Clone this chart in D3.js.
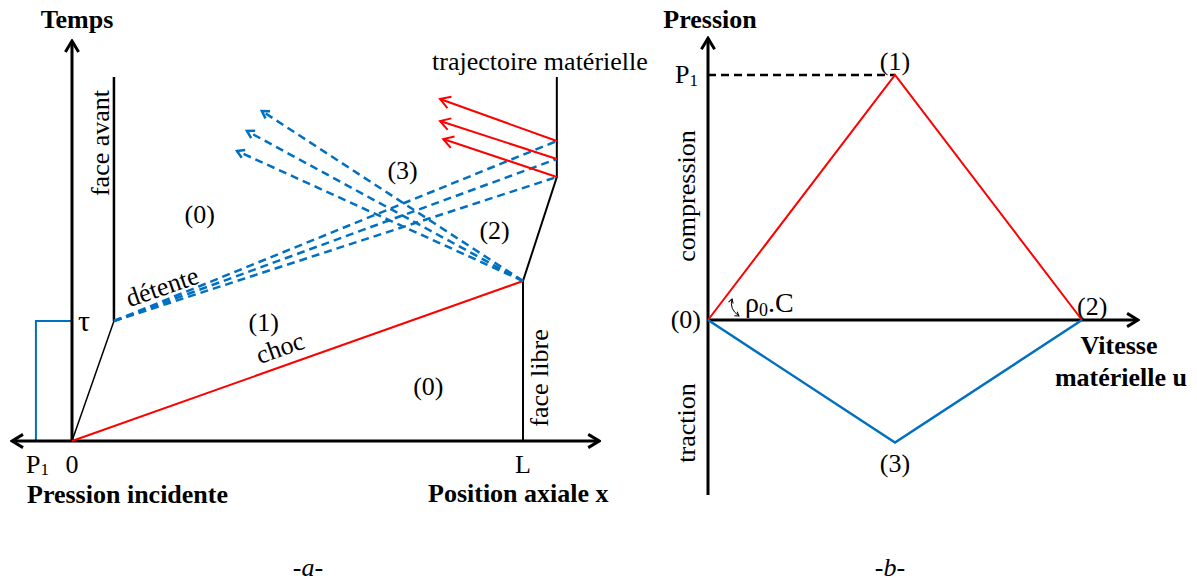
<!DOCTYPE html>
<html>
<head>
<meta charset="utf-8">
<script src="https://cdn.jsdelivr.net/npm/d3@7/dist/d3.min.js"></script>
<style>
  html, body { margin: 0; padding: 0; background: #fff; }
  text { font-family: "Liberation Serif", "Times New Roman", serif; fill: #000; }
</style>
</head>
<body>
<svg id="chart" width="1197" height="581"></svg>
<script>
// ---------- Panel a : x–t diagram (L = 10, tau = 3, arbitrary time units) ----------
const L = 10;
const tau = 3;
const xDomainA = [0, 10];
const tDomainA = [0, 10];
const xAxisEndsA = [-1.33, 11.69];      // left arrow (pressure) / right arrow (position)
const tAxisTopA = 10;
const incidentPulse = [[-0.8, 0], [-0.8, 3], [0, 3]]; // P1 during tau
const frontFaceLoad = [[0, 0], [0.93, 3]];
const frontFace = [[0.93, 3], [0.93, 9.1]];
const shock = [[0, 0], [10, 4]];
const freeSurface = [[10, 0], [10, 4], [10.75, 6.6], [10.75, 9.1]];
const fanOrigin = [0.93, 3];
const fanEndTimes = [6.6, 7.05, 7.5];          // at x = 10.75
const fanEndX = 10.75;
const reflectedOrigin = [10, 4];
const reflectedEnds = [[3.66, 7.25], [3.88, 7.75], [4.21, 8.25]];
const spallArrowEnds = [[8.23, 7.55], [8.16, 8.0], [8.16, 8.55]];
const regionLabelsA = [
  {txt: "(0)", x: 2.83, t: 5.65},
  {txt: "(3)", x: 7.33, t: 6.75},
  {txt: "(2)", x: 9.37, t: 5.25},
  {txt: "(1)", x: 4.25, t: 2.95},
  {txt: "(0)", x: 7.9, t: 1.35}
];

// ---------- Panel b : pressure – particle velocity diagram ----------
const uDomainB = [0, 2];
const pDomainB = [0, 1];
const uStates = [0, 1, 2];
const pCompression = [0, 1, 0];   // (0) -> (1) -> (2)
const pTraction = [0, -0.5, 0];   // (0) -> (3) -> (2)
const uAxisEndB = 2.3;
const pAxisTopB = 1.15;
const pAxisBottomB = -0.714;

const RED = "#ff0000", BLUE = "#0070c0";
const svg = d3.select("#chart");
svg.append("rect").attr("width", 1197).attr("height", 581).attr("fill", "#fff");

// markers
const defs = svg.append("defs");
function chevron(id, color, size, sw) {
  defs.append("marker")
    .attr("id", id).attr("markerUnits", "userSpaceOnUse")
    .attr("viewBox", `${-size - 2} ${-size} ${size + 4} ${size * 2}`)
    .attr("refX", 0).attr("refY", 0)
    .attr("markerWidth", size + 4).attr("markerHeight", size * 2)
    .attr("orient", "auto-start-reverse")
    .append("path")
    .attr("d", `M${-size},${-size * 0.6} L0,0 L${-size},${size * 0.6}`)
    .attr("fill", "none").attr("stroke", color).attr("stroke-width", sw)
    .attr("stroke-linejoin", "miter");
}
chevron("axArrow", "#000", 11, 3);
chevron("redArrow", RED, 10, 2);
chevron("blueArrow", BLUE, 7, 2.5);
chevron("smallArrow", "#000", 4, 1);

// ---------- Panel a ----------
const xA = d3.scaleLinear().domain(xDomainA).range([72, 523]);
const tA = d3.scaleLinear().domain(tDomainA).range([441, 41]);
const lineA = d3.line().x(d => xA(d[0])).y(d => tA(d[1]));
const gA = svg.append("g");

// incident pulse
gA.append("path").attr("d", lineA(incidentPulse))
  .attr("fill", "none").attr("stroke", BLUE).attr("stroke-width", 2);

// axes
gA.append("line")
  .attr("x1", xA(xAxisEndsA[0])).attr("y1", tA(0))
  .attr("x2", xA(xAxisEndsA[1])).attr("y2", tA(0))
  .attr("stroke", "#000").attr("stroke-width", 3)
  .attr("marker-start", "url(#axArrow)").attr("marker-end", "url(#axArrow)");
gA.append("line")
  .attr("x1", xA(0)).attr("y1", tA(0))
  .attr("x2", xA(0)).attr("y2", tA(tAxisTopA))
  .attr("stroke", "#000").attr("stroke-width", 3)
  .attr("marker-end", "url(#axArrow)");

// front face
gA.append("path").attr("d", lineA(frontFaceLoad))
  .attr("fill", "none").attr("stroke", "#000").attr("stroke-width", 1.5);
gA.append("path").attr("d", lineA(frontFace))
  .attr("fill", "none").attr("stroke", "#000").attr("stroke-width", 2.5);

// free surface
gA.append("path").attr("d", lineA(freeSurface))
  .attr("fill", "none").attr("stroke", "#000").attr("stroke-width", 2);

// shock
gA.append("path").attr("d", lineA(shock))
  .attr("fill", "none").attr("stroke", RED).attr("stroke-width", 2);

// release fan
fanEndTimes.forEach(t => {
  gA.append("path").attr("d", lineA([fanOrigin, [fanEndX, t]]))
    .attr("fill", "none").attr("stroke", BLUE).attr("stroke-width", 2.5)
    .attr("stroke-dasharray", "8,5");
});
// reflected release
reflectedEnds.forEach(e => {
  gA.append("path").attr("d", lineA([reflectedOrigin, e]))
    .attr("fill", "none").attr("stroke", BLUE).attr("stroke-width", 2.5)
    .attr("stroke-dasharray", "8,5").attr("marker-end", "url(#blueArrow)");
});
// red arrows from material trajectory
spallArrowEnds.forEach((e, i) => {
  gA.append("path").attr("d", lineA([[fanEndX, fanEndTimes[i]], e]))
    .attr("fill", "none").attr("stroke", RED).attr("stroke-width", 2)
    .attr("marker-end", "url(#redArrow)");
});

// texts panel a
const fs = 26;
gA.append("text").attr("x", 77).attr("y", 28).attr("text-anchor", "middle")
  .attr("font-size", fs).attr("font-weight", "bold").text("Temps");
gA.append("text").attr("x", 27).attr("y", 503)
  .attr("font-size", fs).attr("font-weight", "bold").text("Pression incidente");
gA.append("text").attr("x", 428).attr("y", 502)
  .attr("font-size", fs).attr("font-weight", "bold").text("Position axiale x");
gA.append("text").attr("x", 432).attr("y", 70)
  .attr("font-size", fs).text("trajectoire matérielle");
const p1a = gA.append("text").attr("x", 26).attr("y", 473).attr("font-size", fs);
p1a.append("tspan").text("P");
p1a.append("tspan").attr("font-size", 17).attr("dy", 2).text("1");
gA.append("text").attr("x", xA(0)).attr("y", 473).attr("text-anchor", "middle")
  .attr("font-size", fs).text("0");
gA.append("text").attr("x", xA(L)).attr("y", 473).attr("text-anchor", "middle")
  .attr("font-size", fs).text("L");
gA.append("text").attr("x", 78).attr("y", 331)
  .attr("font-size", 30).text("τ");
gA.append("text").attr("transform", "translate(109,143) rotate(-90)")
  .attr("text-anchor", "middle").attr("font-size", fs).text("face avant");
gA.append("text").attr("transform", "translate(548,378) rotate(-90)")
  .attr("text-anchor", "middle").attr("font-size", fs).text("face libre");
gA.append("text").attr("transform", "translate(165,295) rotate(-19)")
  .attr("text-anchor", "middle").attr("font-size", fs).text("détente");
gA.append("text").attr("transform", "translate(283,356) rotate(-19.4)")
  .attr("text-anchor", "middle").attr("font-size", fs).text("choc");
regionLabelsA.forEach(r => {
  gA.append("text").attr("x", xA(r.x)).attr("y", tA(r.t) + 8)
    .attr("text-anchor", "middle").attr("font-size", fs).text(r.txt);
});

// ---------- Panel b ----------
const uB = d3.scaleLinear().domain(uDomainB).range([708, 1082]);
const pB = d3.scaleLinear().domain(pDomainB).range([320, 75]);
const lineB = d3.line().x(d => uB(d[0])).y(d => pB(d[1]));
const gB = svg.append("g");

gB.append("line")
  .attr("x1", uB(0)).attr("y1", pB(0))
  .attr("x2", uB(uAxisEndB)).attr("y2", pB(0))
  .attr("stroke", "#000").attr("stroke-width", 3)
  .attr("marker-end", "url(#axArrow)");
gB.append("line")
  .attr("x1", uB(0)).attr("y1", pB(pAxisBottomB))
  .attr("x2", uB(0)).attr("y2", pB(pAxisTopB))
  .attr("stroke", "#000").attr("stroke-width", 3)
  .attr("marker-end", "url(#axArrow)");
// P1 dashed level
gB.append("line")
  .attr("x1", uB(0)).attr("y1", pB(1))
  .attr("x2", uB(uStates[1])).attr("y2", pB(1))
  .attr("stroke", "#000").attr("stroke-width", 2.5)
  .attr("stroke-dasharray", "8,5");

gB.append("path").attr("d", lineB(uStates.map((u, i) => [u, pCompression[i]])))
  .attr("fill", "none").attr("stroke", RED).attr("stroke-width", 2);
gB.append("path").attr("d", lineB(uStates.map((u, i) => [u, pTraction[i]])))
  .attr("fill", "none").attr("stroke", BLUE).attr("stroke-width", 2.5);

// slope indicator
gB.append("path").attr("d", "M732,299 Q729,309 739,316")
  .attr("fill", "none").attr("stroke", "#000").attr("stroke-width", 1)
  .attr("marker-start", "url(#smallArrow)").attr("marker-end", "url(#smallArrow)");

gB.append("text").attr("x", 710).attr("y", 28).attr("text-anchor", "middle")
  .attr("font-size", fs).attr("font-weight", "bold").text("Pression");
gB.append("text").attr("x", 1119).attr("y", 354).attr("text-anchor", "middle")
  .attr("font-size", fs).attr("font-weight", "bold").text("Vitesse");
gB.append("text").attr("x", 1121).attr("y", 386).attr("text-anchor", "middle")
  .attr("font-size", fs).attr("font-weight", "bold").text("matérielle u");
const p1b = gB.append("text").attr("x", 675).attr("y", 83).attr("font-size", fs);
p1b.append("tspan").text("P");
p1b.append("tspan").attr("font-size", 17).attr("dy", 3).text("1");
const rho = gB.append("text").attr("x", 745).attr("y", 312).attr("font-size", 28);
rho.append("tspan").text("ρ");
rho.append("tspan").attr("font-size", 18).attr("dy", 4).text("0");
rho.append("tspan").attr("dy", -4).text(".C");
gB.append("text").attr("x", uB(1)).attr("y", 70).attr("text-anchor", "middle")
  .attr("font-size", fs).text("(1)");
gB.append("text").attr("x", 701).attr("y", 328).attr("text-anchor", "end")
  .attr("font-size", fs).text("(0)");
gB.append("text").attr("x", 1077).attr("y", 315)
  .attr("font-size", fs).text("(2)");
gB.append("text").attr("x", uB(1)).attr("y", 472).attr("text-anchor", "middle")
  .attr("font-size", fs).text("(3)");
gB.append("text").attr("transform", "translate(695,196) rotate(-90)")
  .attr("text-anchor", "middle").attr("font-size", fs).text("compression");
gB.append("text").attr("transform", "translate(695,423) rotate(-90)")
  .attr("text-anchor", "middle").attr("font-size", fs).text("traction");

// captions
svg.append("text").attr("x", 308).attr("y", 576).attr("text-anchor", "middle")
  .attr("font-size", fs).attr("font-style", "italic").text("-a-");
svg.append("text").attr("x", 890).attr("y", 576).attr("text-anchor", "middle")
  .attr("font-size", fs).attr("font-style", "italic").text("-b-");
</script>
</body>
</html>
